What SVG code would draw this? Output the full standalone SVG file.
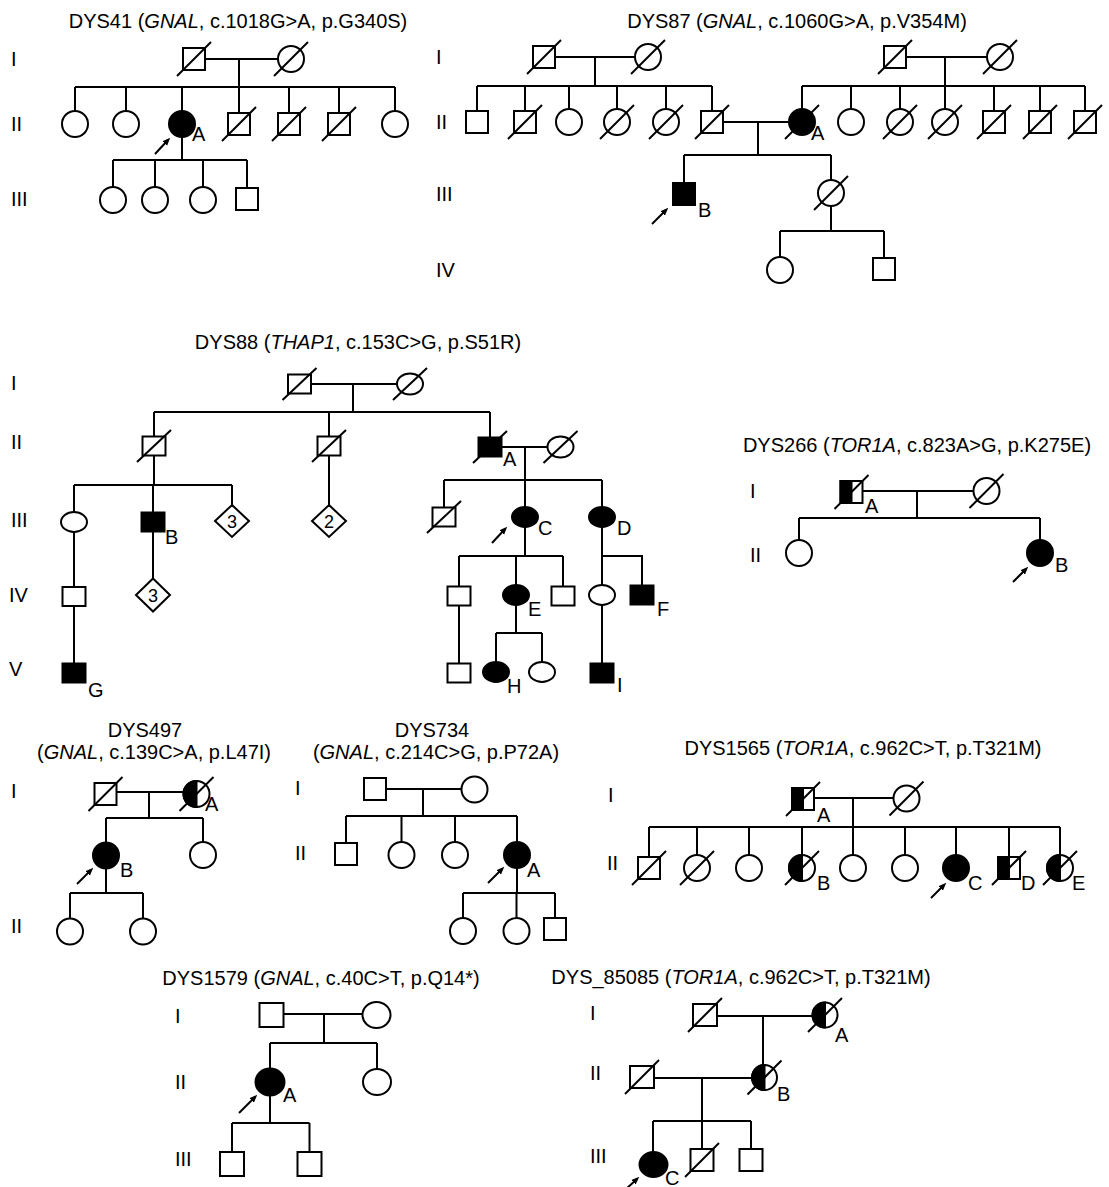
<svg xmlns="http://www.w3.org/2000/svg" width="1109" height="1187" viewBox="0 0 1109 1187">
<style>
.s{fill:#fff;stroke:#000;stroke-width:2}
.f{fill:#000;stroke:#000;stroke-width:2}
.ln{fill:none;stroke:#000;stroke-width:2}
.ar{fill:none;stroke:#000;stroke-width:2;marker-end:url(#ah)}
text{font-family:"Liberation Sans",Arial,sans-serif;font-size:20px;fill:#000}
.t{text-anchor:middle}
.n{font-size:18px;text-anchor:middle}
</style>
<defs>
<marker id="ah" viewBox="0 0 10 10" refX="6" refY="5" markerWidth="8" markerHeight="8" markerUnits="userSpaceOnUse" orient="auto"><path d="M0,1 L10,5 L0,9 z" fill="#000"/></marker>
</defs>
<rect x="0" y="0" width="1109" height="1187" fill="#fff"/>

<g id="titles">
<text class="t" x="238" y="28">DYS41 (<tspan font-style="italic">GNAL</tspan>, c.1018G&gt;A, p.G340S)</text>
<text class="t" x="797" y="28">DYS87 (<tspan font-style="italic">GNAL</tspan>, c.1060G&gt;A, p.V354M)</text>
<text class="t" x="358" y="349">DYS88 (<tspan font-style="italic">THAP1</tspan>, c.153C&gt;G, p.S51R)</text>
<text class="t" x="917" y="452">DYS266 (<tspan font-style="italic">TOR1A</tspan>, c.823A&gt;G, p.K275E)</text>
<text class="t" x="145" y="737">DYS497</text>
<text class="t" x="154" y="759">(<tspan font-style="italic">GNAL</tspan>, c.139C&gt;A, p.L47I)</text>
<text class="t" x="432" y="737">DYS734</text>
<text class="t" x="436" y="759">(<tspan font-style="italic">GNAL</tspan>, c.214C&gt;G, p.P72A)</text>
<text class="t" x="863" y="755">DYS1565 (<tspan font-style="italic">TOR1A</tspan>, c.962C&gt;T, p.T321M)</text>
<text class="t" x="321" y="985">DYS1579 (<tspan font-style="italic">GNAL</tspan>, c.40C&gt;T, p.Q14*)</text>
<text class="t" x="741" y="984">DYS_85085 (<tspan font-style="italic">TOR1A</tspan>, c.962C&gt;T, p.T321M)</text>
</g>
<g id="generations">
<text x="11" y="66">I</text><text x="11" y="131">II</text><text x="11" y="206">III</text>
<text x="436" y="64">I</text><text x="436" y="129">II</text><text x="436" y="201">III</text><text x="436" y="277">IV</text>
<text x="11" y="390">I</text><text x="11" y="449">II</text><text x="11" y="527">III</text><text x="9" y="602">IV</text><text x="9" y="676">V</text>
<text x="750" y="498">I</text><text x="750" y="562">II</text>
<text x="11" y="798">I</text><text x="11" y="933">II</text>
<text x="295" y="795">I</text><text x="295" y="860">II</text>
<text x="608" y="802">I</text><text x="607" y="870">II</text>
<text x="175" y="1023">I</text><text x="175" y="1089">II</text><text x="175" y="1166">III</text>
<text x="590" y="1020">I</text><text x="590" y="1080">II</text><text x="590" y="1163">III</text>
</g>

<g id="connectors">
<path class="ln" d="M205,59 H278 M239,59 V87 M75,87 H395 M75,87 V111 M126,87 V111 M182,87 V111 M239,87 V113 M289,87 V113 M339,87 V113 M395,87 V111 M182,137 V160 M113,160 H247 M113,160 V187 M155,160 V187 M203,160 V187 M247,160 V188"/>
<path class="ar" d="M155,154 L168,140"/>
<path class="ln" d="M555,57 H635 M595,57 V86 M477,86 H712 M477,86 V111 M525,86 V111 M569,86 V109 M617,86 V109 M666,86 V109 M712,86 V111 M906,57 H987 M945,57 V86 M802,86 H1085 M802,86 V109 M851,86 V109 M900,86 V109 M945,86 V109 M994,86 V111 M1040,86 V111 M1085,86 V111 M723,122 H789 M758,122 V155 M684,155 H831 M684,155 V183 M831,155 V180 M831,206 V231 M780,231 H884 M780,231 V257 M884,231 V258"/>
<path class="ar" d="M652,224 L666,210"/>
<path class="ln" d="M311,384 H397 M353,384 V412 M154,412 H490 M154,412 V436.5 M329,412 V436.5 M490,412 V437.5 M502,447 H547.5 M525,447 V480 M444,480 H602 M444,480 V507.5 M525,480 V507 M602,480 V507 M154,455.5 V485 M74,485 H232 M74,485 V512 M153,485 V512.5 M232,485 V505 M329,455.5 V505 M74,532 V587 M74,606 V663.5 M153,531.5 V578.5 M525,527 V556 M459,556 H563 M459,556 V586.5 M516,556 V585 M563,556 V586.5 M602,527 V585 M602,556 H642 V585.5 M459,605.5 V663.5 M516,605 V633 M496,633 H542 M496,633 V662 M542,633 V662 M602,605 V663.5"/>
<path class="ar" d="M492,543 L505,529"/>
<path class="ln" d="M862.5,491 H973.5 M917,491 V518 M799,518 H1040 M799,518 V540 M1040,518 V540"/>
<path class="ar" d="M1013,582 L1026,569"/>
<path class="ln" d="M116.5,792 H183.5 M149,792 V818 M106,818 H203 M106,818 V842.5 M203,818 V842 M106,868.5 V893 M70,893 H143 M70,893 V918.5 M143,893 V918.5"/>
<path class="ar" d="M77,884 L91,870"/>
<path class="ln" d="M386,789 H461.5 M423,789 V816 M346,816 H517 M346,816 V843 M401.5,816 V842 M455,816 V842 M517,816 V842 M517,868 V893 M463,893 H555 M463,893 V918 M516.5,893 V918 M555,893 V918"/>
<path class="ar" d="M488,883 L502,869"/>
<path class="ln" d="M814,798 H893.5 M853,798 V827 M649,827 H1060 M649,827 V857 M697,827 V855 M749,827 V855 M802,827 V855 M853,827 V855 M905,827 V855 M956,827 V855 M1009,827 V857 M1060,827 V855"/>
<path class="ar" d="M931,898 L944,885"/>
<path class="ln" d="M283.5,1014 H362.5 M324,1014 V1043 M270,1043 H377 M270,1043 V1068.5 M377,1043 V1069 M270,1095.5 V1123 M232,1123 H309.5 M232,1123 V1152 M309.5,1123 V1152"/>
<path class="ar" d="M239,1113 L255,1097"/>
<path class="ln" d="M717,1016 H813 M763,1016 V1065 M654,1078 H752 M702,1078 V1121 M653,1121 H751 M653,1121 V1152 M702,1121 V1149 M751,1121 V1149"/>
<path class="ar" d="M625,1190 L637,1179"/>
</g>

<g id="dys41-I-1"><rect class="s" x="183" y="48" width="22" height="22"/><line class="ln" x1="177" y1="76" x2="211" y2="42"/></g>
<g id="dys41-I-2"><circle class="s" cx="291" cy="59" r="13"/><line class="ln" x1="274" y1="76" x2="308" y2="42"/></g>
<g id="dys41-II-1"><circle class="s" cx="75" cy="124" r="13"/></g>
<g id="dys41-II-2"><circle class="s" cx="126" cy="124" r="13"/></g>
<g id="dys41-II-3"><circle class="f" cx="182" cy="124" r="13"/><text x="192" y="141">A</text></g>
<g id="dys41-II-4"><rect class="s" x="228" y="113" width="22" height="22"/><line class="ln" x1="222" y1="141" x2="256" y2="107"/></g>
<g id="dys41-II-5"><rect class="s" x="278" y="113" width="22" height="22"/><line class="ln" x1="272" y1="141" x2="306" y2="107"/></g>
<g id="dys41-II-6"><rect class="s" x="328" y="113" width="22" height="22"/><line class="ln" x1="322" y1="141" x2="356" y2="107"/></g>
<g id="dys41-II-7"><circle class="s" cx="395" cy="124" r="13"/></g>
<g id="dys41-III-1"><circle class="s" cx="113" cy="200" r="13"/></g>
<g id="dys41-III-2"><circle class="s" cx="155" cy="200" r="13"/></g>
<g id="dys41-III-3"><circle class="s" cx="203" cy="200" r="13"/></g>
<g id="dys41-III-4"><rect class="s" x="236" y="188" width="22" height="22"/></g>

<g id="dys87-I-1"><rect class="s" x="533" y="46" width="22" height="22"/><line class="ln" x1="527" y1="74" x2="561" y2="40"/></g>
<g id="dys87-I-2"><circle class="s" cx="648" cy="57" r="13"/><line class="ln" x1="631" y1="74" x2="665" y2="40"/></g>
<g id="dys87-I-3"><rect class="s" x="884" y="46" width="22" height="22"/><line class="ln" x1="878" y1="74" x2="912" y2="40"/></g>
<g id="dys87-I-4"><circle class="s" cx="1000" cy="57" r="13"/><line class="ln" x1="983" y1="74" x2="1017" y2="40"/></g>
<g id="dys87-II-1"><rect class="s" x="466" y="111" width="22" height="22"/></g>
<g id="dys87-II-2"><rect class="s" x="514" y="111" width="22" height="22"/><line class="ln" x1="508" y1="139" x2="542" y2="105"/></g>
<g id="dys87-II-3"><circle class="s" cx="569" cy="122" r="13"/></g>
<g id="dys87-II-4"><circle class="s" cx="617" cy="122" r="13"/><line class="ln" x1="600" y1="139" x2="634" y2="105"/></g>
<g id="dys87-II-5"><circle class="s" cx="666" cy="122" r="13"/><line class="ln" x1="649" y1="139" x2="683" y2="105"/></g>
<g id="dys87-II-6"><rect class="s" x="701" y="111" width="22" height="22"/><line class="ln" x1="695" y1="139" x2="729" y2="105"/></g>
<g id="dys87-II-7"><circle class="f" cx="802" cy="122" r="13"/><line class="ln" x1="785" y1="139" x2="819" y2="105"/><text x="811" y="140">A</text></g>
<g id="dys87-II-8"><circle class="s" cx="851" cy="122" r="13"/></g>
<g id="dys87-II-9"><circle class="s" cx="900" cy="122" r="13"/><line class="ln" x1="883" y1="139" x2="917" y2="105"/></g>
<g id="dys87-II-10"><circle class="s" cx="945" cy="122" r="13"/><line class="ln" x1="928" y1="139" x2="962" y2="105"/></g>
<g id="dys87-II-11"><rect class="s" x="983" y="111" width="22" height="22"/><line class="ln" x1="977" y1="139" x2="1011" y2="105"/></g>
<g id="dys87-II-12"><rect class="s" x="1029" y="111" width="22" height="22"/><line class="ln" x1="1023" y1="139" x2="1057" y2="105"/></g>
<g id="dys87-II-13"><rect class="s" x="1074" y="111" width="22" height="22"/><line class="ln" x1="1068" y1="139" x2="1102" y2="105"/></g>
<g id="dys87-III-1"><rect class="f" x="673" y="183" width="22" height="22"/><text x="698" y="217">B</text></g>
<g id="dys87-III-2"><circle class="s" cx="831" cy="193" r="13"/><line class="ln" x1="814" y1="210" x2="848" y2="176"/></g>
<g id="dys87-IV-1"><circle class="s" cx="780" cy="270" r="13"/></g>
<g id="dys87-IV-2"><rect class="s" x="873" y="258" width="22" height="22"/></g>

<g id="dys88-I-1"><rect class="s" x="288" y="374.5" width="23" height="19"/><line class="ln" x1="282.5" y1="400" x2="316.5" y2="368"/></g>
<g id="dys88-I-2"><ellipse class="s" cx="410" cy="384" rx="13" ry="10.5"/><line class="ln" x1="393" y1="400" x2="427" y2="368"/></g>
<g id="dys88-II-1"><rect class="s" x="142.5" y="436.5" width="23" height="19"/><line class="ln" x1="137" y1="462" x2="171" y2="430"/></g>
<g id="dys88-II-2"><rect class="s" x="317.5" y="436.5" width="23" height="19"/><line class="ln" x1="312" y1="462" x2="346" y2="430"/></g>
<g id="dys88-II-3"><rect class="f" x="478.5" y="437.5" width="23" height="19"/><line class="ln" x1="473" y1="463" x2="507" y2="431"/><text x="503" y="466">A</text></g>
<g id="dys88-II-4"><ellipse class="s" cx="560.5" cy="447" rx="13" ry="10.5"/><line class="ln" x1="543.5" y1="463" x2="577.5" y2="431"/></g>
<g id="dys88-III-1"><ellipse class="s" cx="74" cy="522" rx="13" ry="10"/></g>
<g id="dys88-III-2"><rect class="f" x="141.5" y="512.5" width="23" height="19"/><text x="165" y="544">B</text></g>
<g id="dys88-III-3"><path class="s" d="M232,505 L249,521 L232,537 L215,521 Z"/><text class="n" x="232" y="527.5">3</text></g>
<g id="dys88-III-4"><path class="s" d="M329,505 L346,521 L329,537 L312,521 Z"/><text class="n" x="329" y="527.5">2</text></g>
<g id="dys88-III-5"><rect class="s" x="432.5" y="507.5" width="23" height="19"/><line class="ln" x1="427" y1="533" x2="461" y2="501"/></g>
<g id="dys88-III-6"><ellipse class="f" cx="525" cy="517" rx="13" ry="10"/><text x="538" y="535">C</text></g>
<g id="dys88-III-7"><ellipse class="f" cx="602" cy="517" rx="13" ry="10"/><text x="617" y="535">D</text></g>
<g id="dys88-IV-1"><rect class="s" x="62.5" y="587" width="23" height="19"/></g>
<g id="dys88-IV-2"><path class="s" d="M153,578.5 L170,595 L153,611.5 L136,595 Z"/><text class="n" x="153" y="601.5">3</text></g>
<g id="dys88-IV-3"><rect class="s" x="447.5" y="586.5" width="23" height="19"/></g>
<g id="dys88-IV-4"><ellipse class="f" cx="516" cy="595" rx="13" ry="10"/><text x="528" y="616">E</text></g>
<g id="dys88-IV-5"><rect class="s" x="551.5" y="586.5" width="23" height="19"/></g>
<g id="dys88-IV-6"><ellipse class="s" cx="602" cy="595" rx="13" ry="10"/></g>
<g id="dys88-IV-7"><rect class="f" x="630.5" y="585.5" width="23" height="19"/><text x="657" y="616">F</text></g>
<g id="dys88-V-1"><rect class="f" x="62.5" y="663.5" width="23" height="19"/><text x="88" y="697">G</text></g>
<g id="dys88-V-2"><rect class="s" x="447.5" y="663.5" width="23" height="19"/></g>
<g id="dys88-V-3"><ellipse class="f" cx="496" cy="672" rx="13" ry="10"/><text x="507" y="693">H</text></g>
<g id="dys88-V-4"><ellipse class="s" cx="542" cy="672" rx="13" ry="10"/></g>
<g id="dys88-V-5"><rect class="f" x="590.5" y="663.5" width="23" height="19"/><text x="617" y="692">I</text></g>

<g id="dys266-I-1"><rect class="s" x="840.5" y="481" width="22" height="22"/><rect class="f" x="840.5" y="481" width="11" height="22"/><line class="ln" x1="834.5" y1="509" x2="868.5" y2="475"/><text x="865" y="513">A</text></g>
<g id="dys266-I-2"><circle class="s" cx="986.5" cy="491" r="13"/><line class="ln" x1="969.5" y1="508" x2="1003.5" y2="474"/></g>
<g id="dys266-II-1"><circle class="s" cx="799" cy="553" r="13"/></g>
<g id="dys266-II-2"><circle class="f" cx="1040" cy="553" r="13"/><text x="1055" y="572">B</text></g>

<g id="dys497-I-1"><rect class="s" x="94.5" y="783" width="22" height="22"/><line class="ln" x1="88.5" y1="811" x2="122.5" y2="777"/></g>
<g id="dys497-I-2"><circle class="s" cx="196.5" cy="794" r="13"/><path class="f" d="M196.5,781 A13,13 0 0 0 196.5,807 Z"/><line class="ln" x1="179.5" y1="811" x2="213.5" y2="777"/><text x="205" y="811">A</text></g>
<g id="dys497-II-1"><circle class="f" cx="106" cy="855.5" r="13"/><text x="120" y="877">B</text></g>
<g id="dys497-II-2"><circle class="s" cx="203" cy="855" r="13"/></g>
<g id="dys497-III-1"><circle class="s" cx="70" cy="931.5" r="13"/></g>
<g id="dys497-III-2"><circle class="s" cx="143" cy="931.5" r="13"/></g>

<g id="dys734-I-1"><rect class="s" x="364" y="778" width="22" height="22"/></g>
<g id="dys734-I-2"><circle class="s" cx="474.5" cy="789.5" r="13"/></g>
<g id="dys734-II-1"><rect class="s" x="335" y="843" width="22" height="22"/></g>
<g id="dys734-II-2"><circle class="s" cx="401.5" cy="855" r="13"/></g>
<g id="dys734-II-3"><circle class="s" cx="455" cy="855" r="13"/></g>
<g id="dys734-II-4"><circle class="f" cx="517" cy="855" r="13"/><text x="527" y="877">A</text></g>
<g id="dys734-III-1"><circle class="s" cx="463" cy="931" r="13"/></g>
<g id="dys734-III-2"><circle class="s" cx="516.5" cy="931" r="13"/></g>
<g id="dys734-III-3"><rect class="s" x="544" y="918" width="22" height="22"/></g>

<g id="dys1565-I-1"><rect class="s" x="792" y="788" width="22" height="22"/><rect class="f" x="792" y="788" width="11" height="22"/><line class="ln" x1="786" y1="816" x2="820" y2="782"/><text x="817" y="822">A</text></g>
<g id="dys1565-I-2"><circle class="s" cx="906.5" cy="798.5" r="13"/><line class="ln" x1="889.5" y1="815.5" x2="923.5" y2="781.5"/></g>
<g id="dys1565-II-1"><rect class="s" x="638" y="857" width="22" height="22"/><line class="ln" x1="632" y1="885" x2="666" y2="851"/></g>
<g id="dys1565-II-2"><circle class="s" cx="697" cy="868" r="13"/><line class="ln" x1="680" y1="885" x2="714" y2="851"/></g>
<g id="dys1565-II-3"><circle class="s" cx="749" cy="868" r="13"/></g>
<g id="dys1565-II-4"><circle class="s" cx="802" cy="868" r="13"/><path class="f" d="M802,855 A13,13 0 0 0 802,881 Z"/><line class="ln" x1="785" y1="885" x2="819" y2="851"/><text x="817" y="890">B</text></g>
<g id="dys1565-II-5"><circle class="s" cx="853" cy="868" r="13"/></g>
<g id="dys1565-II-6"><circle class="s" cx="905" cy="868" r="13"/></g>
<g id="dys1565-II-7"><circle class="f" cx="956" cy="868" r="13"/><text x="968" y="890">C</text></g>
<g id="dys1565-II-8"><rect class="s" x="998" y="857" width="22" height="22"/><rect class="f" x="998" y="857" width="11" height="22"/><line class="ln" x1="992" y1="885" x2="1026" y2="851"/><text x="1021" y="890">D</text></g>
<g id="dys1565-II-9"><circle class="s" cx="1060" cy="868" r="13"/><path class="f" d="M1060,855 A13,13 0 0 0 1060,881 Z"/><line class="ln" x1="1043" y1="885" x2="1077" y2="851"/><text x="1072" y="890">E</text></g>

<g id="dys1579-I-1"><rect class="s" x="259.5" y="1003" width="24" height="24"/></g>
<g id="dys1579-I-2"><ellipse class="s" cx="376.5" cy="1015" rx="14" ry="13"/></g>
<g id="dys1579-II-1"><ellipse class="f" cx="270" cy="1082" rx="14.5" ry="13.5"/><text x="283" y="1102">A</text></g>
<g id="dys1579-II-2"><ellipse class="s" cx="377" cy="1082" rx="14" ry="13"/></g>
<g id="dys1579-III-1"><rect class="s" x="220" y="1152" width="24" height="24"/></g>
<g id="dys1579-III-2"><rect class="s" x="297.5" y="1152" width="24" height="24"/></g>

<g id="dys85085-I-1"><rect class="s" x="693" y="1004" width="24" height="22"/><line class="ln" x1="688" y1="1032" x2="722" y2="998"/></g>
<g id="dys85085-I-2"><circle class="s" cx="825" cy="1015" r="12.5"/><path class="f" d="M825,1002.5 A12.5,12.5 0 0 0 825,1027.5 Z"/><line class="ln" x1="808" y1="1032" x2="842" y2="998"/><text x="835" y="1042">A</text></g>
<g id="dys85085-II-1"><rect class="s" x="630" y="1066" width="24" height="22"/><line class="ln" x1="625" y1="1094" x2="659" y2="1060"/></g>
<g id="dys85085-II-2"><circle class="s" cx="764.5" cy="1077.5" r="12.5"/><path class="f" d="M764.5,1065 A12.5,12.5 0 0 0 764.5,1090 Z"/><line class="ln" x1="747.5" y1="1094.5" x2="781.5" y2="1060.5"/><text x="777" y="1101">B</text></g>
<g id="dys85085-III-1"><ellipse class="f" cx="653.5" cy="1164.5" rx="14" ry="12.5"/><text x="665" y="1185">C</text></g>
<g id="dys85085-III-2"><rect class="s" x="690.5" y="1149" width="23" height="22"/><line class="ln" x1="685" y1="1177" x2="719" y2="1143"/></g>
<g id="dys85085-III-3"><rect class="s" x="739.5" y="1149" width="23" height="22"/></g>
</svg>
